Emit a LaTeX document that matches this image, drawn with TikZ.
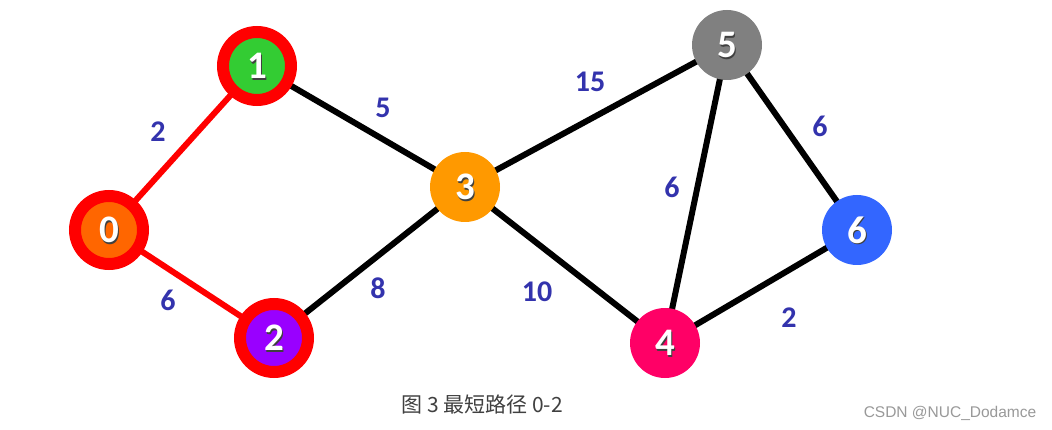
\documentclass[tikz,border=0pt]{standalone}
\usepackage{fontspec}
\setmainfont{Carlito}
\newfontfamily\cjk{Noto Sans CJK SC}
\newfontfamily\wm{Liberation Sans}
\begin{document}
\begin{tikzpicture}[x=1pt,y=-1pt,
  vtx/.style={circle,minimum size=70pt,inner sep=0pt},
  ring/.style={circle,minimum size=68pt,inner sep=0pt,draw=red,line width=12pt},
  edge/.style={line width=6pt,black},
  redge/.style={line width=6pt,red},
  wlab/.style={font=\bfseries\fontsize{39}{39}\selectfont,text=white},
  slab/.style={font=\bfseries\fontsize{39}{39}\selectfont,text=black!75},
  elab/.style={font=\bfseries\fontsize{30}{30}\selectfont,text=blue!60!black!80!white}]
\useasboundingbox (0,0) rectangle (1052,430);
\fill[white] (0,0) rectangle (1052,430);
\coordinate (p0) at (109,230);
\coordinate (p1) at (257,66);
\coordinate (p2) at (274,338);
\coordinate (p3) at (465,187);
\coordinate (p4) at (665,343);
\coordinate (p5) at (727,45);
\coordinate (p6) at (857,230);
% edges
\draw[redge] (p0) -- (p1);
\draw[redge] (p0) -- (p2);
\draw[edge] (p1) -- (p3);
\draw[edge] (p2) -- (p3);
\draw[edge] (p3) -- (p5);
\draw[edge] (p3) -- (p4);
\draw[edge] (p4) -- (p5);
\draw[edge] (p5) -- (p6);
\draw[edge] (p4) -- (p6);
% nodes
\node[ring,fill={rgb,255:red,255;green,102;blue,0}] (n0) at (p0) {};
\node[ring,fill={rgb,255:red,51;green,204;blue,51}] (n1) at (p1) {};
\node[ring,fill={rgb,255:red,153;green,0;blue,255}] (n2) at (p2) {};
\node[vtx,fill={rgb,255:red,255;green,153;blue,0}] (n3) at (p3) {};
\node[vtx,fill={rgb,255:red,255;green,0;blue,102}] (n4) at (p4) {};
\node[vtx,fill={rgb,255:red,128;green,128;blue,128}] (n5) at (p5) {};
\node[vtx,fill={rgb,255:red,51;green,102;blue,255}] (n6) at (p6) {};
% labels with shadow
\foreach \i in {0,...,6} {
  \node[slab] (s\i) at ([shift={(1.8,1.8)}]n\i.center) {\i};
  \node[wlab] (t\i) at (n\i.center) {\i};
}
% edge labels
\node[elab] (e01) at (158,132) {2};
\node[elab] (e02) at (168,300) {6};
\node[elab] (e13) at (383,108) {5};
\node[elab] (e23) at (378,288) {8};
\node[elab] (e35) at (590,82) {15};
\node[elab] (e34) at (537,292) {10};
\node[elab] (e45) at (672,187) {6};
\node[elab] (e56) at (820,126) {6};
\node[elab] (e46) at (789,318) {2};
% caption
\node[font=\cjk\fontsize{21}{21}\selectfont,text=black!75] (cap) at (482,405) {图\ 3\ 最短路径\ 0-2};
\node[font=\wm\fontsize{15.5}{15.5}\selectfont,text=black!40] (wm) at (950,413) {CSDN @NUC\_Dodamce};
\end{tikzpicture}
\end{document}
